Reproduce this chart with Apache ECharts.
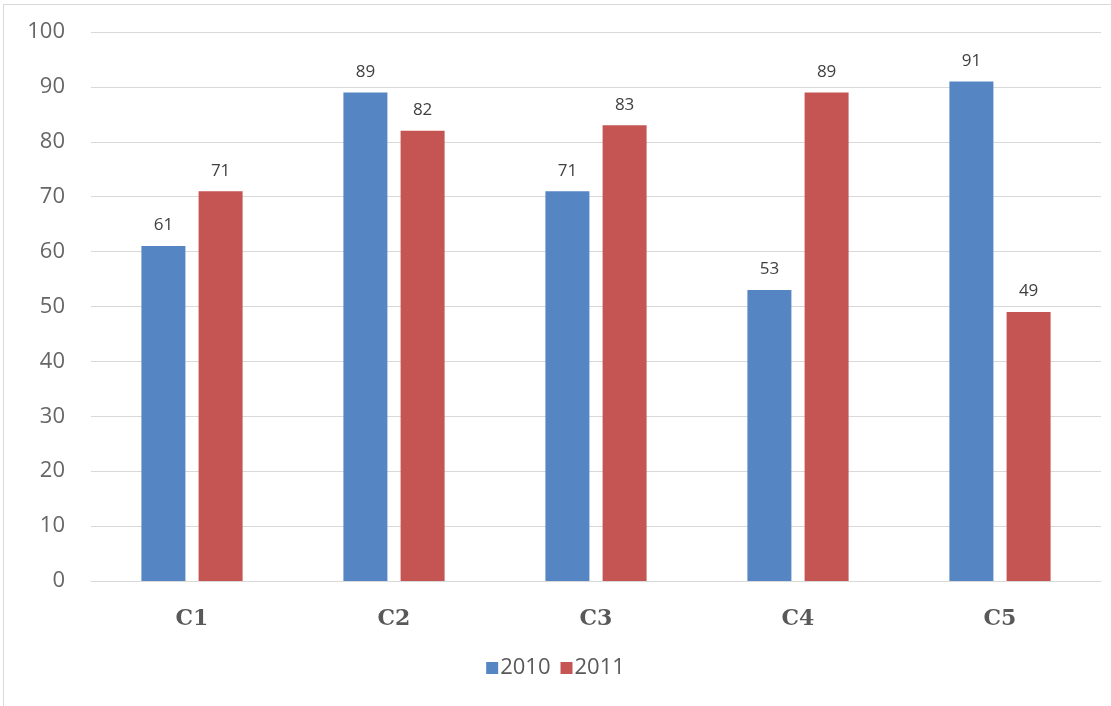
<!DOCTYPE html>
<html>
<head>
<meta charset="utf-8">
<script src="https://cdn.jsdelivr.net/npm/echarts@6/dist/echarts.min.js"></script>
<style>
html,body{margin:0;padding:0;background:#fff;}
#frame{position:absolute;left:3px;top:4px;width:1120px;height:720px;border:1px solid #d9d9d9;box-sizing:border-box;}
#chart{width:1111px;height:706px;}
</style>
</head>
<body>
<div id="frame"></div>
<div id="chart"></div>
<script>
const categories = ['C1', 'C2', 'C3', 'C4', 'C5'];
const values2010 = [61, 89, 71, 53, 91];
const values2011 = [71, 82, 83, 89, 49];
const seriesNames = ['2010', '2011'];

const chart = echarts.init(document.getElementById('chart'));
const labelStyle = {
  show: true, position: 'top', distance: 12,
  color: '#404040', fontSize: 17, fontFamily: 'Open Sans'
};
chart.setOption({
  backgroundColor: 'transparent',
  animation: false,
  grid: { left: 91, right: 10, top: 32, bottom: 125 },
  legend: {
    bottom: 22, left: 'center',
    itemWidth: 12, itemHeight: 12, itemGap: 10,
    icon: 'rect',
    textStyle: { color: '#595959', fontSize: 22, fontFamily: 'Open Sans', padding: [0, 0, 0, -3] },
    data: seriesNames
  },
  xAxis: {
    type: 'category',
    data: categories,
    axisLine: { lineStyle: { color: '#d9d9d9', width: 1 } },
    axisTick: { show: false },
    axisLabel: { color: '#595959', fontSize: 22, fontWeight: 'bold', fontFamily: 'DejaVu Serif', margin: 27 }
  },
  yAxis: {
    type: 'value',
    min: 0, max: 100, interval: 10,
    axisLine: { show: false },
    axisTick: { show: false },
    axisLabel: { color: '#666666', fontSize: 22, fontFamily: 'Open Sans', margin: 26 },
    splitLine: { lineStyle: { color: '#d9d9d9', width: 1 } }
  },
  series: [
    {
      name: seriesNames[0], type: 'bar', data: values2010,
      barWidth: 44, barGap: '30%',
      itemStyle: { color: '#5585C3' },
      label: labelStyle
    },
    {
      name: seriesNames[1], type: 'bar', data: values2011,
      barWidth: 44,
      itemStyle: { color: '#C45553' },
      label: labelStyle
    }
  ]
});
</script>
</body>
</html>
